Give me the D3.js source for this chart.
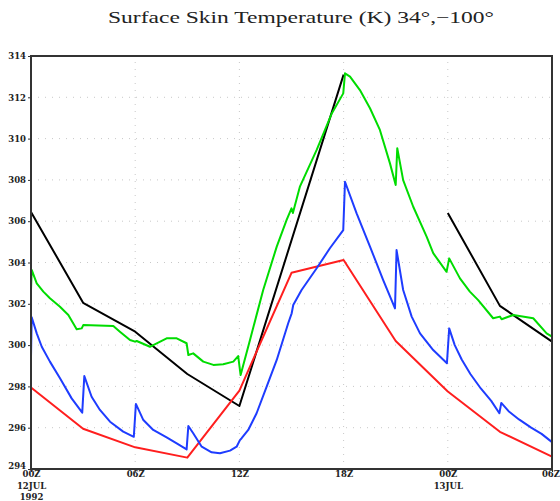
<!DOCTYPE html>
<html>
<head>
<meta charset="utf-8">
<script src="https://cdn.jsdelivr.net/npm/d3@7"></script>
<style>
  body { margin: 0; background: #fff; }
  svg { display: block; }
  .tick text { font-family: "DejaVu Serif", serif; font-weight: bold; font-size: 8.5px; fill: #222; }
</style>
</head>
<body>
<script>
// Surface skin temperature, 12-13 JUL 1992, hours since 00Z 12JUL

const width = 560, height = 501;
const margin = { top: 56, right: 8, bottom: 32, left: 31 };

// x tick positions (hours) and labels
const xTicks = [0, 6, 12, 18, 24, 30];
const xTickLabels = [["00Z", "12JUL", "1992"], ["06Z"], ["12Z"], ["18Z"], ["00Z", "13JUL"], ["06Z"]];
const yTicks = [294, 296, 298, 300, 302, 304, 306, 308, 310, 312, 314];

// black: two pieces (gap after 18Z)
const blackHours1 = [0, 3, 6, 9, 12, 18];
const blackVals1  = [306.45, 302.05, 300.65, 298.6, 297.05, 313.1];
const blackHours2 = [24, 27, 30];
const blackVals2  = [306.4, 301.9, 300.17];

// red
const redHours = [0, 3, 6, 9, 12, 15, 18, 21, 24, 27, 30];
const redVals  = [297.95, 295.95, 295.05, 294.55, 297.8, 303.5, 304.12, 300.2, 297.75, 295.8, 294.6];

// blue
const blueHours = [0, 0.04, 0.33, 0.62, 1.09, 1.67, 2.34, 2.95,
  3.07, 3.49, 3.97, 4.55, 5.31, 5.92,
  6.04, 6.47, 7.04, 7.81, 8.39, 8.96,
  9.06, 9.34, 9.83, 10.4, 10.88, 11.46, 11.84, 12.03, 12.13, 12.51, 12.99, 13.57, 14.15, 14.81, 15.01, 15.1, 15.58, 16.45, 17.21, 17.98,
  18.08, 18.75, 19.52, 20.28, 20.96,
  21.05, 21.43, 21.92, 22.4, 23.16, 23.95,
  24.08, 24.4, 24.8, 25.3, 25.9, 26.5, 26.97,
  27.08, 27.5, 28.1, 28.8, 29.4, 30];
const blueVals = [299.44, 301.35, 300.57, 299.92, 299.2, 298.39, 297.42, 296.73,
  298.5, 297.5, 296.86, 296.29, 295.81, 295.56,
  297.15, 296.37, 295.89, 295.53, 295.24, 294.95,
  296.08, 295.73, 295.08, 294.81, 294.76, 294.89, 295.08, 295.4, 295.49, 295.89, 296.7, 297.99, 299.28, 301.06, 301.54, 301.94, 302.67, 303.72, 304.69, 305.57,
  307.91, 306.38, 304.77, 303.15, 301.78,
  304.6, 302.67, 301.38, 300.57, 299.76, 299.12,
  300.81, 300.0, 299.3, 298.6, 297.9, 297.3, 296.7,
  297.2, 296.8, 296.4, 296.0, 295.7, 295.3];

// green
const greenHours = [0, 0.04, 0.33, 0.71, 1.09, 1.67, 2.15, 2.63, 2.92, 3.01,
  4.74, 5.12, 5.7, 5.99, 6.09, 6.85, 7.04, 7.81, 8.39, 8.96, 9.06, 9.34, 9.92, 10.5, 11.07, 11.65, 11.93, 12.07,
  12.61, 13.37, 14.15, 14.72, 15.0, 15.08, 15.49, 16.45, 17.31, 17.98,
  18.08, 18.37, 18.94, 19.52, 20.09, 20.67, 21.0, 21.09, 21.43, 22.01, 22.78, 23.16, 23.93,
  24.08, 24.7, 25.27, 25.75, 26.61, 27.0, 27.1, 27.77, 28.92, 29.69, 30];
const greenVals = [302.67, 303.64, 302.99, 302.59, 302.27, 301.86, 301.46, 300.77, 300.81, 300.97,
  300.92, 300.65, 300.25, 300.17, 300.2, 299.92, 300.0, 300.33, 300.33, 300.09, 299.52, 299.6, 299.2, 299.04, 299.07, 299.2, 299.47, 298.55,
  300.25, 302.67, 304.77, 306.06, 306.62, 306.4, 307.69, 309.45, 311.2, 312.19,
  313.16, 313.0, 312.35, 311.47, 310.42, 308.8, 307.75, 309.53, 307.99, 306.7, 305.25, 304.45, 303.55,
  304.2, 303.23, 302.59, 302.18, 301.3, 301.38, 301.25, 301.46, 301.3, 300.57, 300.41];

const x = d3.scaleLinear().domain([0, 30]).range([margin.left, width - margin.right]);
const y = d3.scaleLinear().domain([294, 314]).range([height - margin.bottom, margin.top]);

const svg = d3.select("body").append("svg")
  .attr("width", width)
  .attr("height", height);

// title
svg.append("text")
  .attr("x", 108)
  .attr("y", 23)
  .attr("textLength", 386)
  .attr("lengthAdjust", "spacingAndGlyphs")
  .style("font-family", "'Liberation Serif', serif")
  .style("font-size", "17px")
  .style("fill", "#222")
  .text("Surface Skin Temperature (K) 34°,−100°");

// dotted grid
const grid = svg.append("g").attr("stroke", "#c8c8c8").attr("stroke-width", 1).attr("stroke-dasharray", "1,6");
grid.selectAll(".gy")
  .data(yTicks.slice(1, -1))
  .enter().append("line")
  .attr("x1", x(0)).attr("x2", x(30))
  .attr("y1", d => y(d)).attr("y2", d => y(d));
grid.selectAll(".gx")
  .data(xTicks.slice(1, -1))
  .enter().append("line")
  .attr("x1", d => x(d)).attr("x2", d => x(d))
  .attr("y1", y(294)).attr("y2", y(314));

// axes
const yAxis = svg.append("g")
  .attr("transform", `translate(${margin.left},0)`)
  .call(d3.axisLeft(y).tickValues(yTicks).tickSize(3).tickPadding(2).tickFormat(d3.format("d")));
yAxis.select(".domain").remove();
yAxis.selectAll(".tick line").attr("stroke", "#333");
yAxis.selectAll(".tick text").filter(d => d === 294).attr("dy", "-0.05em");

const xAxis = svg.append("g")
  .attr("transform", `translate(0,${height - margin.bottom})`)
  .call(d3.axisBottom(x).tickValues(xTicks).tickSize(3).tickFormat(""));
xAxis.select(".domain").remove();
xAxis.selectAll(".tick line").attr("stroke", "#333");
xAxis.selectAll(".tick").each(function(d, i) {
  const last = i === xTicks.length - 1;
  const t = d3.select(this).append("text")
    .attr("text-anchor", last ? "end" : "middle")
    .attr("y", 2);
  xTickLabels[i].forEach((s, k) => {
    t.append("tspan")
      .attr("x", last ? 7.5 : 0)
      .attr("dy", k === 0 ? 0 : 11.5)
      .attr("dominant-baseline", "hanging")
      .text(s);
  });
});

// lines
const line = d3.line()
  .x(d => x(d[0]))
  .y(d => y(d[1]));

function series(hours, vals) {
  return hours.map((h, i) => [h, vals[i]]);
}

const plot = svg.append("g").attr("fill", "none").attr("stroke-width", 2).attr("stroke-linejoin", "round");
plot.append("path").datum(series(blackHours1, blackVals1)).attr("stroke", "#000").attr("d", line);
plot.append("path").datum(series(blackHours2, blackVals2)).attr("stroke", "#000").attr("d", line);
plot.append("path").datum(series(redHours, redVals)).attr("stroke", "#ff1e1e").attr("d", line);
plot.append("path").datum(series(blueHours, blueVals)).attr("stroke", "#1e3cff").attr("d", line);
plot.append("path").datum(series(greenHours, greenVals)).attr("stroke", "#00dc00").attr("d", line);

// frame
svg.append("rect")
  .attr("x", x(0)).attr("y", y(314))
  .attr("width", x(30) - x(0)).attr("height", y(294) - y(314))
  .attr("fill", "none")
  .attr("stroke", "#333")
  .attr("stroke-width", 2);
</script>
</body>
</html>
